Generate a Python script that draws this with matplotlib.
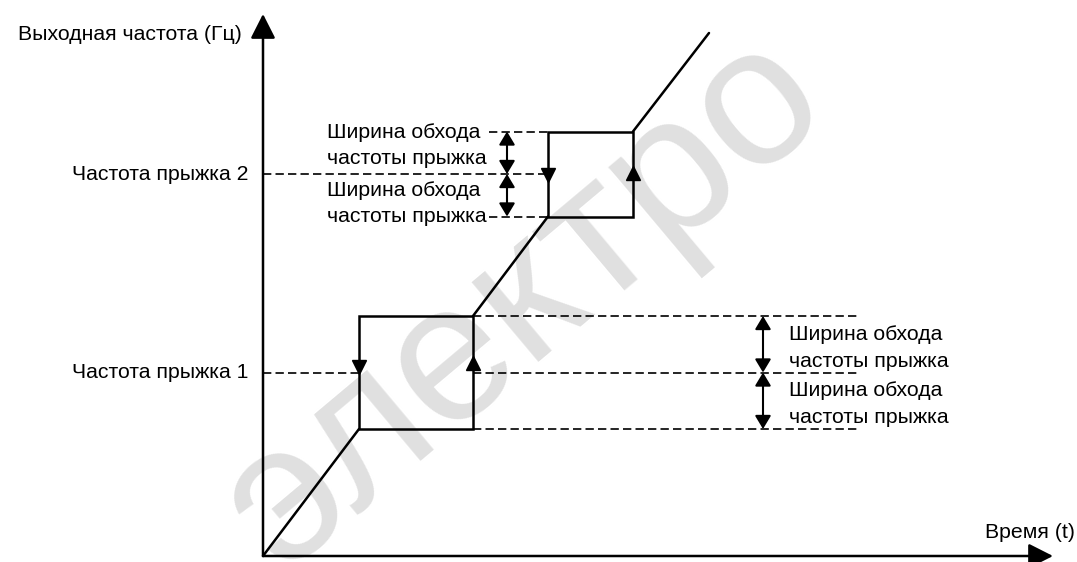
import matplotlib
matplotlib.use('Agg')
import matplotlib.pyplot as plt
from matplotlib.patches import FancyArrowPatch, Rectangle

plt.rcParams['font.family'] = ['Liberation Sans', 'DejaVu Sans']

# ---------------------------------------------------------------
# Data (time / frequency in drawing units, origin at axis corner)
# ---------------------------------------------------------------
jump_freqs   = [183.5, 382.0]          # jump frequency 1, 2
jump_widths  = [56.5, 42.5]            # half bandwidth (each side)
box_t_start  = [96.0, 285.0]           # time where decel starts
box_t_end    = [210.0, 370.0]          # time where accel ends
ramp_end_t   = 446.0
ramp_end_f   = 523.0

y_label      = 'Выходная частота (Гц)'
x_label      = 'Время (t)'
jump_labels  = ['Частота прыжка 1', 'Частота прыжка 2']
width_label  = ['Ширина обхода', 'частоты прыжка']

T_MAX, F_MAX = 790.0, 542.0            # axis arrow tips

fig = plt.figure(figsize=(10.77, 5.62), dpi=100)
ax = fig.add_axes([0, 0, 1, 1])
ax.set_xlim(-263, 814)
ax.set_ylim(-6, 556)
ax.axis('off')

LW = 1.8
DASH = dict(color='black', lw=1.2, linestyle=(0, (5, 2.5)))
FS = 15.3

# watermark
ax.text(262, 254, 'электро', fontsize=142, color='#e0e0e0',
        rotation=40, ha='center', va='center', zorder=0,
        family='Liberation Sans')

# axes with arrows
for end in [(T_MAX, 0), (0, F_MAX)]:
    ax.add_patch(FancyArrowPatch((0, 0), end,
                 arrowstyle='-|>,head_length=0.75,head_width=0.38',
                 mutation_scale=20, color='black', lw=LW,
                 shrinkA=0, shrinkB=0, zorder=4))

ax.text(-21, 521, y_label, fontsize=FS, ha='right', va='center')
ax.text(812, 24, x_label, fontsize=FS, ha='right', va='center')

# ramp segments between boxes
lo = [f - w for f, w in zip(jump_freqs, jump_widths)]
hi = [f + w for f, w in zip(jump_freqs, jump_widths)]
ramp_t = [(0, box_t_start[0]), (box_t_end[0], box_t_start[1]),
          (box_t_end[1], ramp_end_t)]
ramp_f = [(0, lo[0]), (hi[0], lo[1]), (hi[1], ramp_end_f)]
for tt, ff in zip(ramp_t, ramp_f):
    ax.plot(tt, ff, color='black', lw=LW, solid_capstyle='round', zorder=3)

# boxes
for i in range(2):
    ax.add_patch(Rectangle((box_t_start[i], lo[i]),
                           box_t_end[i] - box_t_start[i], hi[i] - lo[i],
                           fill=False, edgecolor='black', lw=LW, zorder=3))

# direction arrowheads on the box sides
down_off = [6, -1]
up_off = [10, 1]
for i in range(2):
    ax.plot(box_t_start[i], jump_freqs[i] + down_off[i], marker='v',
            markersize=9.5, color='black', zorder=4)
    ax.plot(box_t_end[i], jump_freqs[i] + up_off[i], marker='^',
            markersize=9.5, color='black', zorder=4)

# jump frequency labels and dashed lines
for i in range(2):
    ax.text(-15, jump_freqs[i], jump_labels[i], fontsize=FS,
            ha='right', va='center')
    ax.plot([0, box_t_start[i]], [jump_freqs[i]] * 2, **DASH)

# jump 1: dashed lines to the right
R_END = 595
for f in [hi[0], jump_freqs[0], lo[0]]:
    ax.plot([box_t_end[0], R_END], [f, f], **DASH)

# jump 2: short dashed lines left of box
for f in [hi[1], lo[1]]:
    ax.plot([226, box_t_start[1]], [f, f], **DASH)

def dbl_arrow(t, f0, f1):
    ax.add_patch(FancyArrowPatch((t, f0), (t, f1),
                 arrowstyle='<|-|>,head_length=0.5,head_width=0.3',
                 mutation_scale=16, color='black', lw=1.5,
                 shrinkA=0, shrinkB=0, zorder=4))

dbl_arrow(244, jump_freqs[1], hi[1])
dbl_arrow(244, lo[1], jump_freqs[1])
dbl_arrow(500, jump_freqs[0], hi[0])
dbl_arrow(500, lo[0], jump_freqs[0])

# width labels
for y in [424, 365]:
    ax.text(64, y, width_label[0], fontsize=FS, ha='left', va='center')
    ax.text(64, y - 26, width_label[1], fontsize=FS, ha='left', va='center')
for y in [221, 165]:
    ax.text(526, y, width_label[0], fontsize=FS, ha='left', va='center')
    ax.text(526, y - 26.5, width_label[1], fontsize=FS, ha='left', va='center')

fig.savefig('out.png', dpi=100, facecolor='white')
